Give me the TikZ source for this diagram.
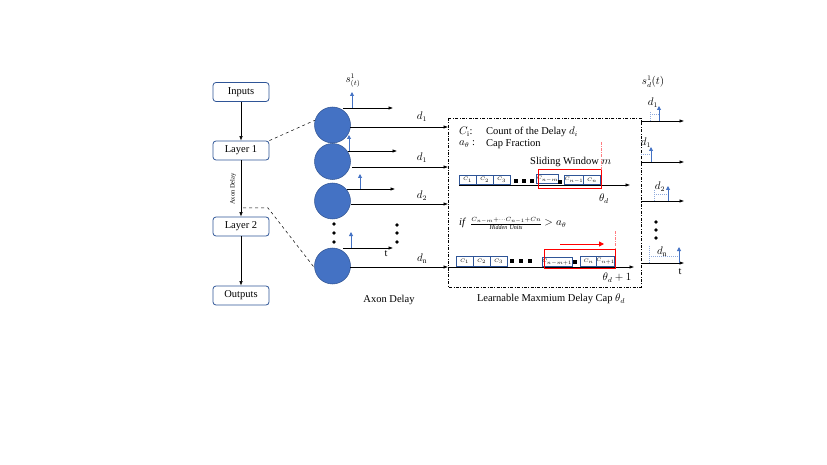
\documentclass[tikz,border=0pt]{standalone}
\usepackage{fontspec}
\setmainfont{Liberation Serif}
\usetikzlibrary{arrows.meta}
\definecolor{boxblue}{HTML}{2F5597}
\definecolor{nblue}{HTML}{4472C4}
\definecolor{nedge}{HTML}{2F528F}
\definecolor{lblue}{HTML}{8FAADC}
\definecolor{rred}{HTML}{FF0000}
\definecolor{lred}{HTML}{FF7C80}
\tikzset{
  lbox/.style={draw=boxblue, rounded corners=3pt, minimum width=56pt, minimum height=19pt, line width=0.8pt, fill=white, inner sep=0pt, font=\fontsize{10.5}{12}\selectfont},
  neuron/.style={circle, fill=nblue, draw=nedge, line width=0.5pt, minimum size=36pt, inner sep=0pt},
  cb/.style={draw=boxblue, line width=0.7pt, minimum width=17pt, minimum height=9.5pt, inner sep=0pt, fill=white, font=\fontsize{5.5}{6}\selectfont},
  arr/.style={-{Latex[length=4.5pt,width=3.5pt]}, line width=0.6pt},
  barr/.style={-{Triangle[length=4pt,width=4pt]}, draw=nblue, line width=0.9pt},
  hdash/.style={draw=lblue, line width=0.5pt, dash pattern=on 1pt off 1pt},
  bdot/.style={circle, fill=black, minimum size=3.6pt, inner sep=0pt},
  sq/.style={rectangle, fill=black, minimum size=3.8pt, inner sep=0pt},
  txt/.style={font=\fontsize{10.5}{12}\selectfont, inner sep=0pt},
  reddash/.style={draw=lred, line width=0.5pt, dash pattern=on 3pt off 1.2pt on 0.8pt off 1.2pt},
}
\begin{document}
\begin{tikzpicture}[x=1pt,y=-1pt]
\useasboundingbox (0,0) rectangle (827,465);
% left column
\node[lbox] (in) at (241,92) {Inputs};
\node[lbox] (l1) at (241,150.5) {Layer 1};
\node[lbox] (l2) at (241,226.5) {Layer 2};
\node[lbox] (out) at (241,295.5) {Outputs};
\draw[arr] (in) -- (l1);
\draw[arr] (l1) -- (l2);
\draw[arr] (l2) -- (out);
\node[rotate=90, font=\fontsize{6.5}{7}\selectfont, inner sep=0pt] (adl) at (233,189) {Axon Delay};
% neurons
\node[neuron] (c1) at (332.5,125) {};
\node[neuron] (c2) at (332.5,161.5) {};
\node[neuron] (c3) at (332.5,201) {};
\node[neuron] (cn) at (332.5,266) {};
% dashed zoom lines
\coordinate (ad) at (243,208);
\coordinate (adk) at (268,208);
\draw[dashed, line width=0.5pt] (l1.north east) -- (c1.165);
\draw[dashed, line width=0.5pt] (ad) -- (adk) -- (cn.185);
% short spike arrows
\coordinate (s1a) at (343,108); \coordinate (s1b) at (393,108);
\coordinate (s2a) at (348,151); \coordinate (s2b) at (397,151);
\coordinate (s3a) at (347,189); \coordinate (s3b) at (395,189);
\coordinate (sna) at (343,248); \coordinate (snb) at (393,248);
\draw[arr] (s1a) -- (s1b);
\draw[arr] (s2a) -- (s2b);
\draw[arr] (s3a) -- (s3b);
\draw[arr] (sna) -- (snb);
\coordinate (b1a) at (352,108); \coordinate (b1b) at (352,92);
\coordinate (b2a) at (349,151); \coordinate (b2b) at (349,135);
\coordinate (b3a) at (360,189); \coordinate (b3b) at (360,174);
\coordinate (bna) at (351,248); \coordinate (bnb) at (351,232);
\draw[barr] (b1a) -- (b1b);
\draw[barr] (b2a) -- (b2b);
\draw[barr] (b3a) -- (b3b);
\draw[barr] (bna) -- (bnb);
\node[txt] (slab) at (353,81) {$s^1_{(t)}$};
\node[txt] (tlab) at (386,254) {t};
% vertical dots
\node[bdot] (ld1) at (334,224) {}; \node[bdot] (ld2) at (334,233) {}; \node[bdot] (ld3) at (334,242) {};
\node[bdot] (rd1) at (397,225) {}; \node[bdot] (rd2) at (397,233) {}; \node[bdot] (rd3) at (397,242) {};
% long arrows to the cap box
\coordinate (e1) at (448,127);
\coordinate (e2) at (448,167);
\coordinate (e3) at (448,204);
\coordinate (en) at (448,267);
\coordinate (f1) at (350,127);
\coordinate (f2) at (352,167);
\coordinate (f3) at (351,204);
\coordinate (fn) at (350,267);
\draw[arr] (f1) -- (e1);
\draw[arr] (f2) -- (e2);
\draw[arr] (f3) -- (e3);
\draw[arr] (fn) -- (en);
\node[txt] (d1) at (422,117) {$d_1$};
\node[txt] (d1b) at (422,158) {$d_1$};
\node[txt] (d2) at (422,196) {$d_2$};
\node[txt] (dn) at (422,259) {$d_{\mathrm{n}}$};
\node[txt] (axl) at (389,300) {Axon Delay};
% cap box
\draw[line width=0.6pt, dash pattern=on 3pt off 1.5pt on 0.8pt off 1.5pt] (448,118) rectangle (641,287);
\node[txt, anchor=west] (ci) at (459,132) {$C_{\mathrm{i}}$:};
\node[txt, anchor=west] (cit) at (486,132) {Count of the Delay $d_i$};
\node[txt, anchor=west] (at) at (459,144) {$a_\theta$ :};
\node[txt, anchor=west] (att) at (486,144) {Cap Fraction};
\node[txt, anchor=west] (sw) at (530,162) {Sliding Window $m$};
% row 1
\coordinate (r1s) at (459,185); \coordinate (r1e) at (630,185);
\draw[arr] (r1s) -- (r1e);
\node[cb] (a1) at (467.5,180) {$C_1$};
\node[cb] (a2) at (484.5,180) {$C_2$};
\node[cb] (a3) at (501.5,180) {$C_3$};
\node[sq] (q1) at (516,181) {}; \node[sq] (q2) at (524,181) {}; \node[sq] (q3) at (532,181) {};
\node[cb, minimum width=17pt] (a4) at (547.5,179) {$C_{n-m}$};
\node[sq, minimum size=3.2pt] (q4) at (560,182) {};
\node[cb] (a5) at (574,180) {$C_{n-1}$};
\node[cb] (a6) at (592,180) {$C_{n}$};
\draw[draw=rred, line width=1pt] (538,170) rectangle (601.5,189);
\coordinate (rv1a) at (601.5,142); \coordinate (rv1b) at (601.5,170);
\draw[reddash] (rv1a) -- (rv1b);
\node[txt] (thd) at (604,199) {$\theta_d$};
% formula
\node[txt, anchor=west] (ifl) at (459,223) {$\mathit{if}$\ \ {\fontsize{9}{10}\selectfont$\frac{C_{n-m}+\cdots C_{n-1}+Cn}{\mathit{Hidden\ Units}}$} $> a_\theta$};
% row 2
\coordinate (r2s) at (448,267); \coordinate (r2e) at (634,267);
\draw[arr] (r2s) -- (r2e);
\node[cb] (b1) at (464.5,261.5) {$C_1$};
\node[cb] (b2) at (481.5,261.5) {$C_2$};
\node[cb] (b3) at (498.5,261.5) {$C_3$};
\node[sq] (p1) at (512,261) {}; \node[sq] (p2) at (521,261) {}; \node[sq] (p3) at (530,261) {};
\node[cb, minimum width=23pt] (b4) at (557,262) {$C_{n-m+1}$};
\node[sq, minimum size=3.2pt] (p4) at (575,262) {};
\node[cb] (b5) at (588.5,261.5) {$C_{n}$};
\node[cb] (b6) at (605.5,261.5) {$C_{n+1}$};
\draw[draw=rred, line width=1pt] (544,249) rectangle (615.5,268);
\coordinate (ra1) at (560,244); \coordinate (ra2) at (604,244);
\draw[-{Triangle[length=5pt,width=5pt]}, draw=rred, fill=rred, line width=1pt] (ra1) -- (ra2);
\coordinate (rv2a) at (615.5,231); \coordinate (rv2b) at (615.5,249);
\draw[reddash] (rv2a) -- (rv2b);
\node[txt] (thd1) at (617,278) {$\theta_d+1$};
\node[txt] (lmc) at (551,299) {Learnable Maxmium Delay Cap $\theta_d$};
% output spike trains
\node[txt] (sout) at (653,82) {$s^1_d(t)$};
\coordinate (o1s) at (641,121); \coordinate (o1e) at (684,121);
\coordinate (o2s) at (641,162); \coordinate (o2e) at (684,162);
\coordinate (o3s) at (641,201); \coordinate (o3e) at (684,201);
\coordinate (ons) at (641,263); \coordinate (one) at (684,263);
\draw[arr] (o1s) -- (o1e);
\draw[arr] (o2s) -- (o2e);
\draw[arr] (o3s) -- (o3e);
\draw[arr] (ons) -- (one);
\draw[hdash] (650,121) -- (650,111);
\draw[hdash] (650,114) -- (659,114);
\draw[hdash] (641,154) -- (651,154);
\draw[hdash] (654,201) -- (654,190);
\draw[hdash] (654,194) -- (668,194);
\draw[hdash] (649,263) -- (649,246);
\draw[hdash] (649,256) -- (679,256);
\coordinate (u1a) at (659,121); \coordinate (u1b) at (659,106);
\coordinate (u2a) at (651,162); \coordinate (u2b) at (651,147);
\coordinate (u3a) at (668,201); \coordinate (u3b) at (668,186);
\coordinate (una) at (679,263); \coordinate (unb) at (679,247);
\draw[barr] (u1a) -- (u1b);
\draw[barr] (u2a) -- (u2b);
\draw[barr] (u3a) -- (u3b);
\draw[barr] (una) -- (unb);
\node[txt] (od1) at (653,103) {$d_1$};
\node[txt] (od1b) at (646,143) {$d_1$};
\node[txt] (od2) at (660,187) {$d_2$};
\node[txt] (odn) at (662,252) {$d_{\mathrm{n}}$};
\node[txt] (ot) at (680,272) {t};
\node[bdot] (od3a) at (656,222) {}; \node[bdot] (od3b) at (656,230) {}; \node[bdot] (od3c) at (656,238) {};
\end{tikzpicture}
\end{document}
